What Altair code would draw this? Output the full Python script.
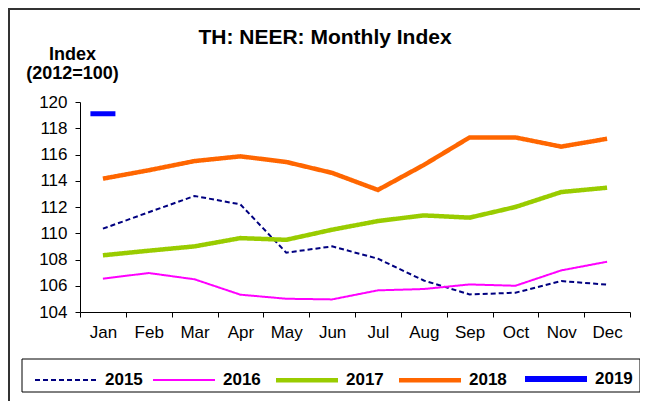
import altair as alt
import pandas as pd

months = ["Jan", "Feb", "Mar", "Apr", "May", "Jun", "Jul", "Aug", "Sep", "Oct", "Nov", "Dec"]
years = ["2015", "2016", "2017", "2018", "2019"]

v2015 = [110.35, 111.6, 112.84, 112.2, 108.52, 109.0, 108.06, 106.4, 105.34, 105.47, 106.36, 106.08]
v2016 = [106.54, 106.97, 106.49, 105.32, 105.01, 104.96, 105.65, 105.75, 106.1, 106.0, 107.17, 107.83]
v2017 = [108.32, 108.67, 109.0, 109.63, 109.5, 110.27, 110.93, 111.36, 111.19, 112.0, 113.14, 113.47]
v2018 = [114.16, 114.8, 115.5, 115.86, 115.43, 114.6, 113.3, 115.2, 117.3, 117.3, 116.6, 117.2]
v2019 = [119.1]

title_text = "TH: NEER: Monthly Index"
colors = ["#000080", "#FF00FF", "#99CC00", "#FF6600", "#0000FF"]
dashes = [[5, 3], [1, 0], [1, 0], [1, 0], [1, 0]]
widths = [2, 2, 4.5, 4.5, 6]

rows = []
for yr, vals in zip(years[:4], [v2015, v2016, v2017, v2018]):
    for m, v in zip(months, vals):
        rows.append({"month": m, "year": yr, "value": v})
df = pd.DataFrame(rows)
df19 = pd.DataFrame({"month": months[:len(v2019)], "year": ["2019"] * len(v2019), "value": v2019})

FONT = "Liberation Sans"

x = alt.X("month:O", sort=months,
          scale=alt.Scale(paddingInner=0, paddingOuter=0),
          axis=alt.Axis(title=None, labelAngle=0, tickBand="extent", grid=False,
                        domainColor="black", tickColor="black", tickSize=5,
                        labelFont=FONT, labelFontSize=17, labelColor="black",
                        labelPadding=7))
y = alt.Y("value:Q",
          scale=alt.Scale(domain=[104, 120], nice=False, zero=False),
          axis=alt.Axis(values=list(range(104, 121, 2)), grid=False,
                        title=["Index", "(2012=100)"], titleAngle=0,
                        titleX=-8, titleY=-43, titleAlign="center",
                        titleBaseline="alphabetic", titleFont=FONT,
                        titleFontSize=18, titleFontWeight="bold",
                        titleColor="black", titleLineHeight=19,
                        domainColor="black", tickColor="black", tickSize=5,
                        labelFont=FONT, labelFontSize=17, labelColor="black",
                        labelPadding=8))

legend = alt.Legend(orient="none", legendX=-48, legendY=243, direction="horizontal",
                    columns=5, title=None, symbolType="stroke", symbolSize=3844,
                    labelFont=FONT, labelFontSize=17, labelFontWeight="bold",
                    labelColor="black", labelOffset=5, columnPadding=6,
                    padding=0)

color = alt.Color("year:O", scale=alt.Scale(domain=years, range=colors), legend=legend)

lines = alt.Chart(df).mark_line(strokeCap="butt").encode(
    x=x, y=y, color=color,
    strokeDash=alt.StrokeDash("year:O", scale=alt.Scale(domain=years, range=dashes), legend=legend),
    strokeWidth=alt.StrokeWidth("year:O", scale=alt.Scale(type="ordinal", domain=years, range=widths), legend=legend),
)

tick19 = alt.Chart(df19).mark_tick(orient="horizontal", size=25, thickness=5, opacity=1).encode(
    x=x, y=y, color=color,
)

one = pd.DataFrame({"k": [0]})
legend_box = alt.Chart(one).mark_rect(fill="white", stroke="black", strokeWidth=1).encode(
    x=alt.value(-58), x2=alt.value(560), y=alt.value(257), y2=alt.value(290))
top_line = alt.Chart(one).mark_rect(fill="#333333").encode(
    x=alt.value(-72), x2=alt.value(569), y=alt.value(-94), y2=alt.value(-92))
left_line = alt.Chart(one).mark_rect(fill="#333333").encode(
    x=alt.value(-72), x2=alt.value(-70), y=alt.value(-94), y2=alt.value(299))
title = alt.Chart(one).mark_text(font=FONT, fontSize=21, fontWeight="bold", color="black",
                                 align="center", baseline="alphabetic").encode(
    x=alt.value(245), y=alt.value(-58), text=alt.value(title_text))

chart = alt.layer(top_line, left_line, legend_box, title, lines, tick19).properties(
    width=550, height=210,
    autosize=alt.AutoSizeParams(type="none"),
    padding={"left": 72, "top": 94, "right": 10, "bottom": 89},
).configure_view(stroke=None)

chart.save("out.html", embed_options={"renderer": "svg", "actions": False})
